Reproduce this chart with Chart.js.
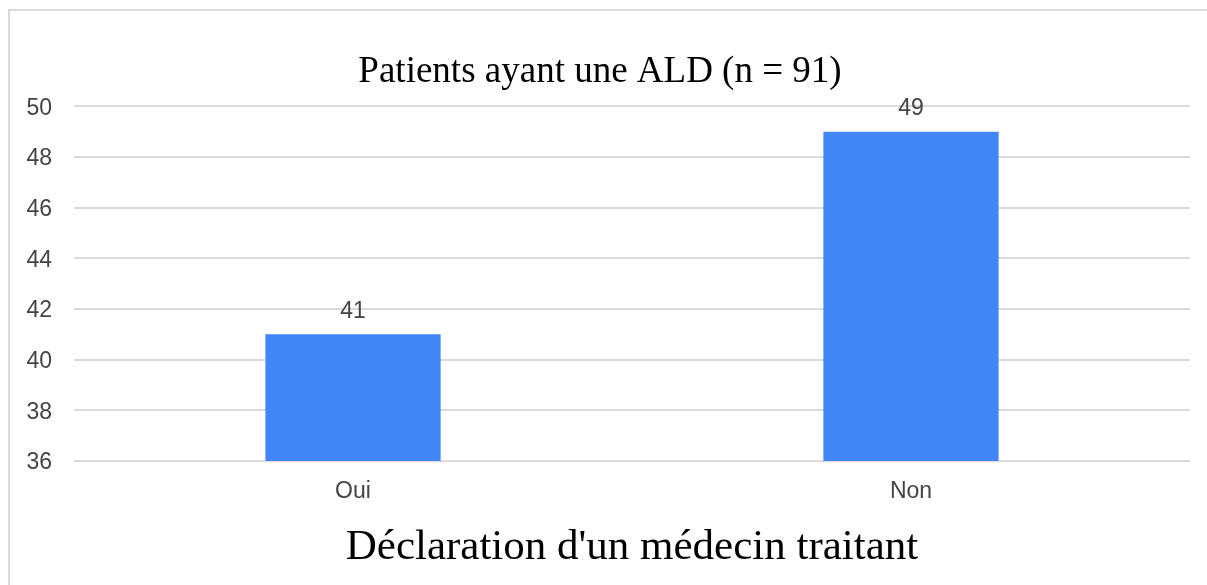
<!DOCTYPE html>
<html lang="fr">
<head>
  <meta charset="UTF-8" />
  <title>Patients ayant une ALD</title>
  <style>
    html, body { margin:0; padding:0; background:#fff; overflow:hidden; }
    #frame { position:absolute; left:8px; top:9px; width:1220px; height:600px;
             border-left:2px solid #d9d9d9; border-top:2px solid #d9d9d9; }
    #chart-container { position:absolute; left:10px; top:11px; width:1197px; height:574px; }
    canvas { display:block; }
  </style>
</head>
<body>
  <div id="frame"></div>
  <div id="chart-container"><canvas id="chart"></canvas></div>

  <script src="https://cdn.jsdelivr.net/npm/chart.js"></script>
  <script>
  // data
  const categories = ['Oui', 'Non'];
  const values = [41, 49];
  const yTicks = [36, 38, 40, 42, 44, 46, 48, 50];

  const chartTitle = 'Patients ayant une ALD (n = 91)';
  const xTitle = "Déclaration d'un médecin traitant";

  const sans = '"Liberation Sans", Arial, sans-serif';
  const serif = '"Liberation Serif", "Times New Roman", serif';

  // value labels above each bar
  const valueLabels = {
    id: 'valueLabels',
    afterDatasetsDraw(chart) {
      const ctx = chart.ctx;
      const meta = chart.getDatasetMeta(0);
      ctx.save();
      ctx.font = '23px ' + sans;
      ctx.fillStyle = '#444';
      ctx.textAlign = 'center';
      ctx.textBaseline = 'middle';
      meta.data.forEach((bar, i) => {
        ctx.fillText(String(values[i]), bar.x, bar.y - 23);
      });
      ctx.restore();
    }
  };

  const ctx = document.getElementById('chart').getContext('2d');
  new Chart(ctx, {
    type: 'bar',
    data: {
      labels: categories,
      datasets: [{
        data: values,
        backgroundColor: '#4285f4',
        borderWidth: 0,
        categoryPercentage: 1.0,
        barPercentage: 0.314
      }]
    },
    options: {
      responsive: true,
      maintainAspectRatio: false,
      animation: false,
      layout: { padding: { left: 0, right: 17, top: 0, bottom: 0 } },
      plugins: {
        legend: { display: false },
        tooltip: { enabled: false },
        title: {
          display: true,
          text: chartTitle,
          color: '#000',
          font: { family: serif, size: 37, weight: 'normal', lineHeight: 1.2 },
          padding: { top: 39, bottom: 12 }
        }
      },
      scales: {
        x: {
          grid: { display: false, drawTicks: false },
          border: { display: false },
          ticks: {
            color: '#444',
            padding: 17,
            font: { family: sans, size: 23 }
          },
          title: {
            display: true,
            text: xTitle,
            color: '#000',
            font: { family: serif, size: 43, lineHeight: 1.2 },
            padding: { top: 4, bottom: 11 }
          },
          afterFit: s => { s.height = 124; }
        },
        y: {
          min: 36,
          max: 50,
          afterBuildTicks: s => { s.ticks = yTicks.map(v => ({ value: v })); },
          grid: { color: '#dadada', lineWidth: 2, drawTicks: false },
          border: { display: false },
          ticks: {
            color: '#444',
            padding: 22,
            labelOffset: 2,
            font: { family: sans, size: 23 }
          },
          afterFit: s => { s.width = 64; }
        }
      }
    },
    plugins: [valueLabels]
  });
  </script>
</body>
</html>
